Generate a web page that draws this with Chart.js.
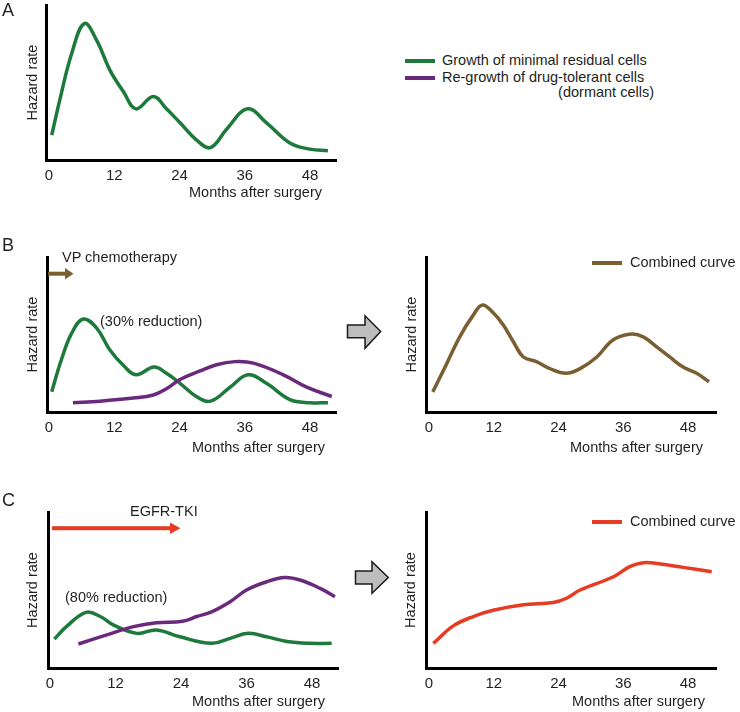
<!DOCTYPE html>
<html>
<head>
<meta charset="utf-8">
<script src="https://cdn.jsdelivr.net/npm/chart.js@4.4.1/dist/chart.umd.min.js"></script>
<style>
  body { margin: 0; background: #fff; }
  #fig { position: relative; width: 740px; height: 712px; overflow: hidden;
         font-family: 'Liberation Sans', Arial, sans-serif; color: #231f20; }
  #fig canvas { position: absolute; }
  .t { position: absolute; font-size: 14.5px; line-height: 14.5px; white-space: nowrap; }
  .panel { position: absolute; font-size: 18px; line-height: 18px; }
  .key { position: absolute; width: 30px; height: 4px; }
  #arrows { position: absolute; left: 0; top: 0; }
</style>
</head>
<body>
<div id="fig">
  <canvas id="chartA"></canvas>
  <canvas id="chartB1"></canvas>
  <canvas id="chartB2"></canvas>
  <canvas id="chartC1"></canvas>
  <canvas id="chartC2"></canvas>

  <div class="panel" style="left:2px;top:1px">A</div>
  <div class="panel" style="left:2px;top:236px">B</div>
  <div class="panel" style="left:2px;top:491px">C</div>

  <div class="key" style="left:405px;top:59px;background:#1e7a3c"></div>
  <div class="t" style="left:442px;top:53px">Growth of minimal residual cells</div>
  <div class="key" style="left:405px;top:76px;background:#6a2a7c"></div>
  <div class="t" style="left:442px;top:70px">Re-growth of drug-tolerant cells</div>
  <div class="t" style="right:86px;top:85px">(dormant cells)</div>

  <div class="t" style="left:62px;top:250px">VP chemotherapy</div>
  <div class="t" style="left:100px;top:314px">(30% reduction)</div>
  <div class="key" style="left:592px;top:261px;background:#7a5f32"></div>
  <div class="t" style="left:630px;top:255px">Combined curve</div>

  <div class="t" style="left:130px;top:504px">EGFR-TKI</div>
  <div class="t" style="left:65px;top:590px">(80% reduction)</div>
  <div class="key" style="left:592px;top:520px;background:#e53c23"></div>
  <div class="t" style="left:630px;top:514px">Combined curve</div>

  <div class="t" style="right:418px;top:185px">Months after surgery</div>
  <div class="t" style="right:415px;top:440px">Months after surgery</div>
  <div class="t" style="right:37px;top:440px">Months after surgery</div>
  <div class="t" style="right:415px;top:694px">Months after surgery</div>
  <div class="t" style="right:35px;top:694px">Months after surgery</div>

  <svg id="arrows" width="740" height="712">
    <rect x="48" y="271.7" width="17.5" height="4" fill="#7a5f32"/>
    <polygon points="65,268 73.5,273.7 65,279.4" fill="#7a5f32"/>
    <rect x="52" y="526.2" width="118.5" height="4" fill="#e53c23"/>
    <polygon points="170,522.5 180.5,528.2 170,534" fill="#e53c23"/>
    <polygon points="347.5,325 365,325 365,315.7 380.7,331.5 365,348.3 365,337.8 347.5,337.8"
             fill="#bdbdbd" stroke="#1a1a1a" stroke-width="1.5" stroke-linejoin="miter"/>
    <polygon points="355.5,571 372,571 372,561.7 388.3,577.5 372,593.3 372,584 355.5,584"
             fill="#bdbdbd" stroke="#1a1a1a" stroke-width="1.5" stroke-linejoin="miter"/>
  </svg>
</div>

<script>
  const xTicks = [0, 12, 24, 36, 48];

  // A: untreated
  const monthsA = [0.5, 2.0, 4.2, 6.5, 8.8, 11.2, 13.7, 16.0, 19.2, 21.6, 24.1, 27.1, 29.7, 32.7, 36.5, 40.0, 44.3, 48.0, 51.3];
  const residualA = [16, 39, 69, 88, 77, 58, 44, 33, 41, 33, 24, 13, 8, 20, 33, 24, 11, 7, 6];

  // B: VP chemotherapy
  const monthsB = [0.5, 2.3, 4.2, 6.3, 8.8, 11.2, 13.7, 16.0, 19.3, 21.6, 24.1, 27.1, 29.7, 33.3, 36.6, 40.0, 44.3, 48.0, 51.3];
  const residualB = [13, 34, 51, 60, 54, 40, 30, 24, 29, 25, 18.5, 10, 7, 16, 24, 18.5, 8, 6, 6];
  const dormantMonthsB = [4.4, 9.4, 15.5, 19.2, 21.6, 24.1, 27.8, 30.8, 34.2, 37.6, 43.1, 47.4, 52.0];
  const dormantB = [6, 7, 9, 11, 15, 21, 26.5, 30.5, 32.5, 31.5, 24, 16, 10];
  const combinedMonthsB = [0.7, 2.7, 5.7, 8.2, 9.9, 11.9, 13.8, 15.6, 17.5, 19.9, 22.4, 25.4, 28.0, 31.1, 34.1, 37.5, 39.7, 42.2, 44.6, 47.1, 49.6, 51.9];
  const combinedB = [13, 27, 48.5, 62.5, 69, 64, 56, 45.5, 35.5, 32.5, 28, 25, 28, 35.5, 46.5, 50.3, 48.5, 42, 35.5, 29, 25, 19.5];

  // C: EGFR-TKI
  const monthsC = [0.8, 3.0, 6.6, 9.2, 11.6, 15.9, 19.5, 23.8, 29.6, 33.0, 36.3, 39.7, 43.4, 47.6, 51.6];
  const residualC = [18.5, 26.5, 35.7, 33, 27.6, 22.2, 24.4, 20, 15.8, 19, 22.2, 20, 17, 15.8, 15.8];
  const dormantMonthsC = [5.2, 10.4, 15.3, 19.5, 24.3, 26.9, 29.6, 33.0, 36.0, 39.7, 43.0, 45.8, 49.5, 52.2];
  const dormantC = [15.4, 21.2, 26.5, 29, 30, 33, 36, 42.5, 50, 55.3, 58, 56.4, 51, 45.7];
  const combinedMonthsC = [0.8, 4.5, 8.2, 11.9, 17.5, 23.0, 25.5, 28.0, 34.2, 37.2, 39.7, 42.2, 47.1, 52.4];
  const combinedC = [15.8, 27, 33, 37, 40.5, 42, 44.7, 50, 58.5, 65, 67.5, 67, 64.5, 61.7];

  const GREEN = '#1e7a3c';
  const PURPLE = '#6a2a7c';
  const BROWN = '#7a5f32';
  const RED = '#e53c23';
  const INK = '#231f20';
  const FONT = "'Liberation Sans', Arial, sans-serif";

  function series(months, values, color) {
    return {
      data: months.map((m, i) => ({ x: m, y: values[i] })),
      borderColor: color,
      borderWidth: 3.5,
      tension: 0.4,
      pointRadius: 0,
      fill: false
    };
  }

  // box = canvas rect, area = plot rect, t0/t48 = pixel of the 0 and 48 month ticks
  function makePanel(canvasId, box, area, t0, t48, titleCx, datasets) {
    const canvas = document.getElementById(canvasId);
    canvas.width = box.w;
    canvas.height = box.h;
    canvas.style.left = box.x + 'px';
    canvas.style.top = box.y + 'px';

    const perMonth = (t48 - t0) / 48;

    return new Chart(canvas.getContext('2d'), {
      type: 'line',
      data: { datasets: datasets },
      options: {
        responsive: false,
        animation: false,
        devicePixelRatio: 1,
        layout: {
          padding: { left: 0, top: area.t - box.y, right: box.x + box.w - area.r, bottom: 0 }
        },
        plugins: {
          legend: { display: false },
          tooltip: { enabled: false }
        },
        scales: {
          x: {
            type: 'linear',
            min: (area.l - t0) / perMonth,
            max: (area.r - t0) / perMonth,
            afterBuildTicks: s => { s.ticks = xTicks.map(v => ({ value: v })); },
            afterFit: s => { s.height = box.y + box.h - area.b; },
            grid: { display: false, drawTicks: false },
            border: { display: true, color: '#000', width: 3 },
            ticks: { padding: 7, color: INK, font: { family: FONT, size: 15 } }
          },
          y: {
            min: 0,
            max: 100,
            afterFit: s => { s.width = area.l - box.x; },
            grid: { display: false, drawTicks: false },
            border: { display: true, color: '#000', width: 3 },
            ticks: { display: false },
            title: {
              display: true,
              text: 'Hazard rate',
              color: INK,
              font: { family: FONT, size: 14.5 },
              padding: { top: titleCx - box.x - 8.7, bottom: 0 }
            }
          }
        }
      }
    });
  }

  makePanel('chartA', { x: 0, y: 0, w: 360, h: 210 }, { l: 46, t: 5, r: 336, b: 160 }, 49, 310, 33, [
    series(monthsA, residualA, GREEN)
  ]);

  makePanel('chartB1', { x: 0, y: 240, w: 345, h: 200 }, { l: 47, t: 257, r: 336, b: 412 }, 49, 310, 33, [
    series(dormantMonthsB, dormantB, PURPLE),
    series(monthsB, residualB, GREEN)
  ]);

  makePanel('chartB2', { x: 390, y: 240, w: 350, h: 200 }, { l: 426.7, t: 257, r: 716.7, b: 412 }, 429, 688, 412, [
    series(combinedMonthsB, combinedB, BROWN)
  ]);

  makePanel('chartC1', { x: 0, y: 495, w: 345, h: 217 }, { l: 48, t: 512, r: 338, b: 668 }, 50, 312, 33, [
    series(dormantMonthsC, dormantC, PURPLE),
    series(monthsC, residualC, GREEN)
  ]);

  makePanel('chartC2', { x: 390, y: 495, w: 350, h: 217 }, { l: 426.7, t: 512, r: 716.7, b: 668 }, 429, 688, 411, [
    series(combinedMonthsC, combinedC, RED)
  ]);
</script>
</body>
</html>
